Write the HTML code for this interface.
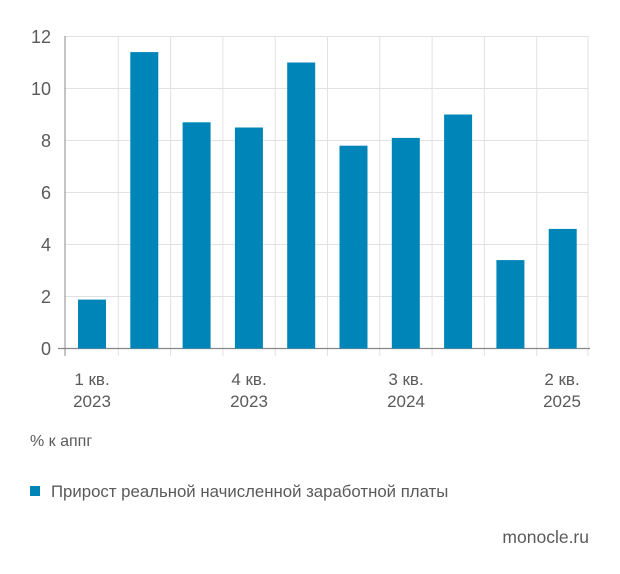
<!DOCTYPE html>
<html><head><meta charset="utf-8"><style>
html,body{margin:0;padding:0;background:#fff;width:620px;height:574px;overflow:hidden}
text{font-family:"Liberation Sans",sans-serif;fill:#5a5a5a}
</style></head><body>
<svg width="620" height="574" xmlns="http://www.w3.org/2000/svg">
<g stroke="#e2e2e2" stroke-width="1">
<line x1="65" y1="36.5" x2="588" y2="36.5"/>
<line x1="65" y1="88.5" x2="588" y2="88.5"/>
<line x1="65" y1="140.5" x2="588" y2="140.5"/>
<line x1="65" y1="192.5" x2="588" y2="192.5"/>
<line x1="65" y1="244.5" x2="588" y2="244.5"/>
<line x1="65" y1="296.5" x2="588" y2="296.5"/>
<line x1="118.3" y1="36" x2="118.3" y2="356"/>
<line x1="170.6" y1="36" x2="170.6" y2="356"/>
<line x1="222.9" y1="36" x2="222.9" y2="356"/>
<line x1="275.2" y1="36" x2="275.2" y2="356"/>
<line x1="327.5" y1="36" x2="327.5" y2="356"/>
<line x1="379.8" y1="36" x2="379.8" y2="356"/>
<line x1="432.1" y1="36" x2="432.1" y2="356"/>
<line x1="484.4" y1="36" x2="484.4" y2="356"/>
<line x1="536.7" y1="36" x2="536.7" y2="356"/>
<line x1="588" y1="36" x2="588" y2="356"/>
</g>
<line x1="65" y1="36" x2="65" y2="356" stroke="#888" stroke-width="1"/>
<line x1="58" y1="348.5" x2="590" y2="348.5" stroke="#888" stroke-width="1.2"/>
<g fill="#0085b8">
<rect x="78" y="299.6" width="28" height="48.9"/>
<rect x="130.3" y="52.1" width="28" height="296.4"/>
<rect x="182.6" y="122.3" width="28" height="226.2"/>
<rect x="234.9" y="127.5" width="28" height="221"/>
<rect x="287.2" y="62.5" width="28" height="286"/>
<rect x="339.5" y="145.7" width="28" height="202.8"/>
<rect x="391.8" y="137.9" width="28" height="210.6"/>
<rect x="444.1" y="114.5" width="28" height="234"/>
<rect x="496.4" y="260.1" width="28" height="88.4"/>
<rect x="548.7" y="228.9" width="28" height="119.6"/>
</g>
<g font-size="18" text-anchor="end">
<text x="51" y="43">12</text>
<text x="51" y="95">10</text>
<text x="51" y="147">8</text>
<text x="51" y="199">6</text>
<text x="51" y="251">4</text>
<text x="51" y="303">2</text>
<text x="51" y="355">0</text>
</g>
<g font-size="17" text-anchor="middle">
<text x="92" y="385">1 кв.</text><text x="92" y="407">2023</text>
<text x="249" y="385">4 кв.</text><text x="249" y="407">2023</text>
<text x="406" y="385">3 кв.</text><text x="406" y="407">2024</text>
<text x="562" y="385">2 кв.</text><text x="562" y="407">2025</text>
</g>
<text x="30" y="446" font-size="16">% к аппг</text>
<rect x="30" y="486" width="10" height="10" fill="#0085b8"/>
<text x="51" y="497" font-size="16.8">Прирост реальной начисленной заработной платы</text>
<text x="589" y="543" font-size="17.5" text-anchor="end">monocle.ru</text>
</svg>
</body></html>
